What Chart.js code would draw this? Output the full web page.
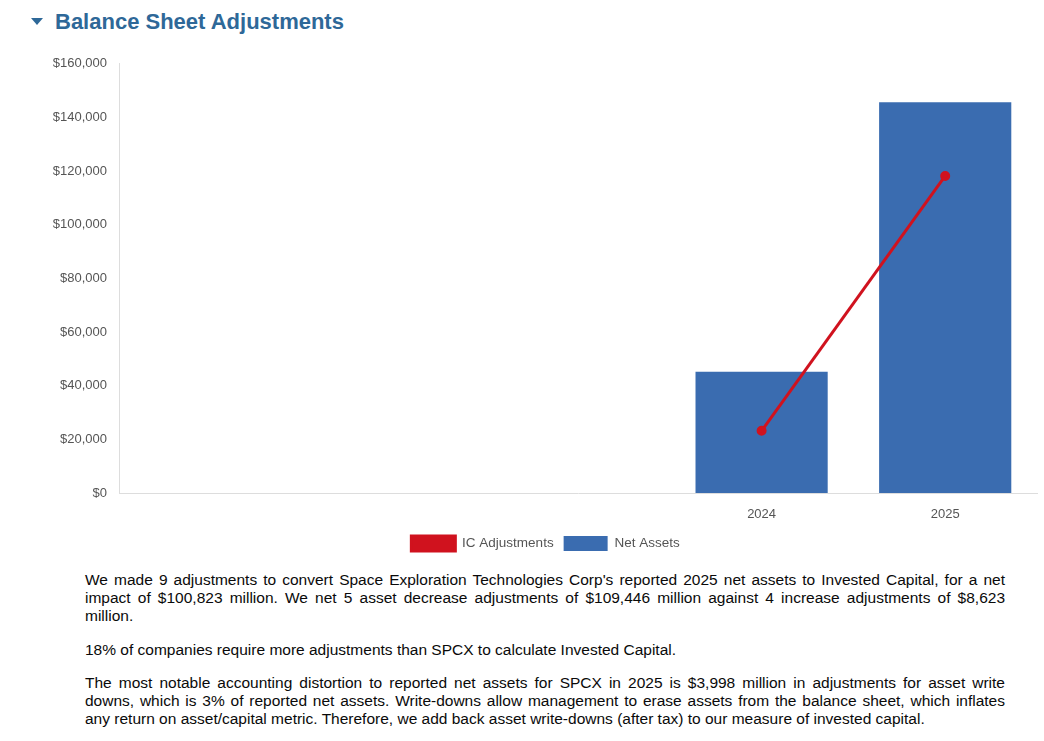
<!DOCTYPE html>
<html>
<head>
<meta charset="utf-8">
<script src="https://cdn.jsdelivr.net/npm/chart.js@4.4.1/dist/chart.umd.min.js"></script>
<style>
  body { margin: 0; background: #fff; font-family: "Helvetica Neue", Helvetica, "Liberation Sans", Arial, sans-serif; }
  .title { position: absolute; left: 31px; top: 9px; color: #2e6898; font-size: 22px; font-weight: bold; }
  .title .caret { display: inline-block; width: 0; height: 0; border-left: 6px solid transparent; border-right: 6px solid transparent; border-top: 7px solid #2e6898; vertical-align: middle; margin-right: 12px; position: relative; top: -2px; }
  #wrap { position: absolute; left: 0; top: 44px; width: 1044px; height: 516px; }
  .text { position: absolute; left: 85px; top: 571px; width: 920px; font-size: 15.5px; line-height: 18px; color: #0a0a0a; }
  .text p { margin: 0 0 15.5px 0; }
  .text .l { display: block; white-space: nowrap; text-align: justify; text-align-last: justify; }
  .text .end { display: block; white-space: nowrap; text-align: left; }
</style>
</head>
<body>
<div class="title"><span class="caret"></span>Balance Sheet Adjustments</div>
<div id="wrap"><canvas id="chart"></canvas></div>
<div class="text">
  <p><span class="l">We made 9 adjustments to convert Space Exploration Technologies Corp's reported 2025 net assets to Invested Capital, for a net</span><span class="l">impact of $100,823 million. We net 5 asset decrease adjustments of $109,446 million against 4 increase adjustments of $8,623</span><span class="end">million.</span></p>
  <p><span class="end">18% of companies require more adjustments than SPCX to calculate Invested Capital.</span></p>
  <p><span class="l">The most notable accounting distortion to reported net assets for SPCX in 2025 is $3,998 million in adjustments for asset write</span><span class="l">downs, which is 3% of reported net assets. Write-downs allow management to erase assets from the balance sheet, which inflates</span><span class="end">any return on asset/capital metric. Therefore, we add back asset write-downs (after tax) to our measure of invested capital.</span></p>
</div>
<script>
// years shown on the x axis (first three have no data)
var years = ["", "", "", "2024", "2025"];
var icAdjustments = [null, null, null, 23200, 118200];
var netAssets = [null, null, null, 45200, 145700];
var yTicks = [0, 20000, 40000, 60000, 80000, 100000, 120000, 140000, 160000];

var fontFamily = '"Helvetica Neue", Helvetica, "Liberation Sans", Arial, sans-serif';

// fixed legend height and a small shift to the right, like the original page
var legendTweak = {
    id: 'legendTweak',
    beforeLayout: function(chart) {
        var lg = chart.legend;
        if (lg && !lg._tweaked) {
            var fit = lg.fit;
            lg.fit = function() { fit.call(this); this.height = 34; };
            lg._tweaked = true;
        }
    },
    afterLayout: function(chart) {
        var lg = chart.legend;
        if (lg) { lg.left += 27; lg.right += 27; }
    }
};

var ctx = document.getElementById("chart");
var balanceChart = new Chart(ctx, {
    type: 'bar',
    data: {
        labels: years,
        datasets: [
            {
                type: 'line',
                label: "IC Adjustments",
                data: icAdjustments,
                borderColor: "#d0121e",
                backgroundColor: "#d0121e",
                borderWidth: 3,
                pointRadius: 3.5,
                pointBackgroundColor: "#d0121e",
                spanGaps: false
            },
            {
                label: "Net Assets",
                data: netAssets,
                backgroundColor: "#3a6cb0"
            }
        ]
    },
    plugins: [legendTweak],
    options: {
        responsive: true,
        maintainAspectRatio: false,
        animation: false,
        layout: { padding: { left: 0, right: 7, top: 13, bottom: 0 } },
        plugins: {
            legend: {
                position: 'bottom',
                labels: {
                    boxWidth: 44,
                    boxHeight: 15,
                    color: "#555",
                    font: { family: fontFamily, size: 13.5 },
                    padding: 10
                }
            },
            tooltip: { enabled: false }
        },
        scales: {
            x: {
                grid: { display: false, drawTicks: false },
                border: { color: "#ddd" },
                afterFit: function(scale) { scale.height = 33; },
                ticks: { color: "#555", font: { family: fontFamily, size: 13 }, padding: 14 }
            },
            y: {
                min: 0,
                max: 160000,
                grid: { display: false, drawTicks: false },
                border: { color: "#ddd" },
                afterBuildTicks: function(scale) {
                    scale.ticks = yTicks.map(function(v) { return { value: v }; });
                },
                afterFit: function(scale) { scale.width = 119; },
                ticks: {
                    color: "#555",
                    padding: 12,
                    font: { family: fontFamily, size: 13 },
                    callback: function(v) { return "$" + v.toLocaleString("en-US"); }
                }
            }
        }
    }
});
</script>
</body>
</html>
